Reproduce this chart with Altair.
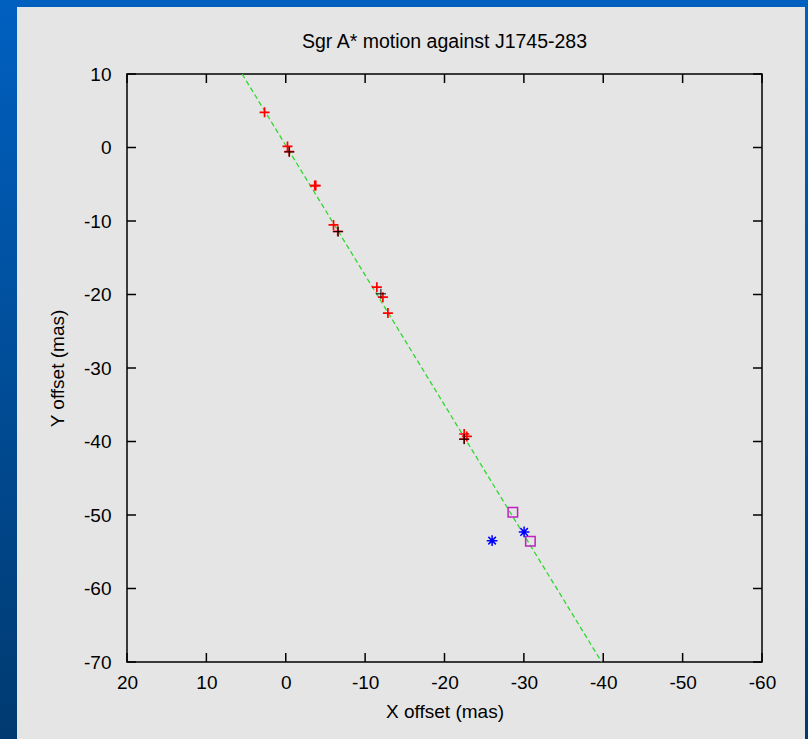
import altair as alt
import pandas as pd

# ---- data ----
red_x = [2.67, -0.22, -0.44, -3.65, -3.78, -6.02, -6.55, -11.48, -12.24, -12.87, -22.48, -22.82, -22.48]
red_y = [4.79, 0.14, -0.56, -5.18, -5.18, -10.53, -11.41, -19.0, -20.36, -22.53, -38.98, -39.31, -39.66]
black_x = [-0.44, -6.6, -11.99, -22.48]
black_y = [-0.6, -11.45, -19.91, -39.69]
blue_x = [-26.0, -30.03]
blue_y = [-53.49, -52.3]
mag_x = [-28.61, -30.82]
mag_y = [-49.64, -53.58]
fit_x = [5.5, -39.8]
fit_y = [10.0, -70.0]
x_ticks = [20, 10, 0, -10, -20, -30, -40, -50, -60]
y_ticks = [10, 0, -10, -20, -30, -40, -50, -60, -70]

W, H = 635, 588
PAD_L, PAD_T, PAD_R, PAD_B = 127, 74, 46, 77
FONT = "Liberation Sans"
FS = 19

red_df = pd.DataFrame({"x": red_x, "y": red_y})
black_df = pd.DataFrame({"x": black_x, "y": black_y})
blue_df = pd.DataFrame({"x": blue_x, "y": blue_y})
mag_df = pd.DataFrame({"x": mag_x, "y": mag_y})
fit_df = pd.DataFrame({"x": fit_x, "y": fit_y})
xt_df = pd.DataFrame({"x": x_ticks})
yt_df = pd.DataFrame({"y": y_ticks})
one = pd.DataFrame({"v": [0]})

xs = alt.Scale(domain=[-60, 20], reverse=True, nice=False, zero=False)
ys = alt.Scale(domain=[-70, 10], nice=False, zero=False)

x_axis = alt.Axis(values=x_ticks, grid=False, domain=False, ticks=False, tickSize=0,
                  labelPadding=11, labelFont=FONT, labelFontSize=FS, labelColor="black",
                  labelFlush=False, labelOverlap=False, labelExpr="'' + datum.value",
                  title="X offset (mas)", titleFont=FONT, titleFontSize=FS,
                  titleFontWeight="normal", titleColor="black",
                  titleY=55, titleBaseline="alphabetic", titleAlign="center", zindex=1)
y_axis = alt.Axis(values=y_ticks, grid=False, domain=False, ticks=False, tickSize=0,
                  labelPadding=16, labelFont=FONT, labelFontSize=FS, labelColor="black",
                  labelFlush=False, labelOverlap=False, labelExpr="'' + datum.value",
                  title="Y offset (mas)", titleFont=FONT, titleFontSize=FS,
                  titleFontWeight="normal", titleColor="black",
                  titleX=-64, titleY=H / 2, titleAngle=270, titleBaseline="alphabetic",
                  titleAlign="center", zindex=1)

X = alt.X("x:Q", scale=xs, axis=x_axis)
Y = alt.Y("y:Q", scale=ys, axis=y_axis)

TOP_BLUE = "#0060c0"
BOT_BLUE = "#003a70"
grad = alt.Gradient(gradient="linear",
                    stops=[alt.GradientStop(color=TOP_BLUE, offset=0),
                           alt.GradientStop(color=BOT_BLUE, offset=1)],
                    x1=0, x2=0, y1=0, y2=1)

left_strip = alt.Chart(one).mark_rect(fill=grad).encode(
    x=alt.value(-PAD_L), x2=alt.value(17 - PAD_L),
    y=alt.value(-PAD_T), y2=alt.value(H + PAD_B))
right_strip = alt.Chart(one).mark_rect(fill=grad).encode(
    x=alt.value(805 - PAD_L), x2=alt.value(W + PAD_R),
    y=alt.value(-PAD_T), y2=alt.value(H + PAD_B))
top_strip = alt.Chart(one).mark_rect(fill=TOP_BLUE).encode(
    x=alt.value(-PAD_L), x2=alt.value(W + PAD_R),
    y=alt.value(-PAD_T), y2=alt.value(7 - PAD_T))

fit = alt.Chart(fit_df).mark_line(color="#2fd82f", strokeWidth=1.3, strokeDash=[5, 3], clip=True).encode(
    x=X, y=Y)

PLUS = "M-1,0H1M0,-1V1"
STAR = "M-1,0H1M0,-1V1M-0.7,-0.7L0.7,0.7M-0.7,0.7L0.7,-0.7"

red = alt.Chart(red_df).mark_point(shape=PLUS, size=100, filled=False, color="#ff0000",
                                   strokeWidth=1.7, opacity=1).encode(x=X, y=Y)
black = alt.Chart(black_df).mark_point(shape=PLUS, size=100, filled=False, color="#000000",
                                       strokeWidth=1, opacity=1).encode(x=X, y=Y)
mag = alt.Chart(mag_df).mark_point(shape="square", size=90, filled=False, color="#c020c0",
                                   strokeWidth=1.5, opacity=1).encode(x=X, y=Y)
blue = alt.Chart(blue_df).mark_point(shape=STAR, size=115, filled=False, color="#0000ff",
                                     strokeWidth=1.5, opacity=1).encode(x=X, y=Y)

TL = 9
tick_b = alt.Chart(xt_df).mark_rule(color="black", strokeWidth=1.5).encode(
    x=X, y=alt.value(H), y2=alt.value(H - TL))
tick_t = alt.Chart(xt_df).mark_rule(color="black", strokeWidth=1.5).encode(
    x=X, y=alt.value(0), y2=alt.value(TL))
tick_l = alt.Chart(yt_df).mark_rule(color="black", strokeWidth=1.5).encode(
    y=Y, x=alt.value(0), x2=alt.value(TL))
tick_r = alt.Chart(yt_df).mark_rule(color="black", strokeWidth=1.5).encode(
    y=Y, x=alt.value(W), x2=alt.value(W - TL))

chart = alt.layer(
    left_strip, right_strip, top_strip, fit, red, black, mag, blue,
    tick_b, tick_t, tick_l, tick_r
).properties(
    width=W, height=H,
    padding={"left": PAD_L, "top": PAD_T, "right": PAD_R, "bottom": PAD_B},
    autosize=alt.AutoSizeParams(type="none"),
    title=alt.TitleParams("Sgr A* motion against J1745-283", font=FONT, fontSize=19.5,
                          fontWeight="normal", color="black", anchor="middle",
                          frame="group", offset=-67.7, baseline="alphabetic"),
).configure(
    background="#e5e5e5"
).configure_view(
    stroke="black", strokeWidth=1.5
)

chart.save("out.html", embed_options={"renderer": "svg", "actions": False})
